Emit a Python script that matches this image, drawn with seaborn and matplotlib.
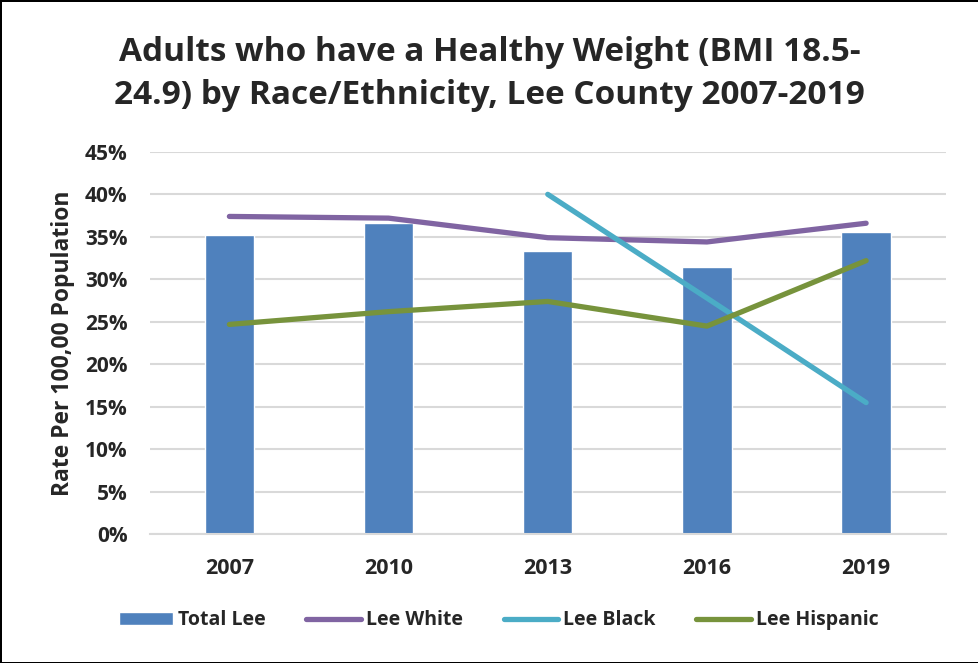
import pandas as pd
import numpy as np
import matplotlib.pyplot as plt
import seaborn as sns

sns.set_style("white")
plt.rcParams['font.family'] = ['Open Sans', 'DejaVu Sans']

years = ['2007', '2010', '2013', '2016', '2019']
total_lee = [35.2, 36.6, 33.3, 31.5, 35.6]
lee_white = [37.4, 37.2, 34.9, 34.4, 36.6]
lee_black = [np.nan, np.nan, 40.0, 27.8, 15.5]
lee_hispanic = [24.7, 26.2, 27.4, 24.5, 32.2]

bars = pd.DataFrame({"Year": years, "Rate": total_lee})
lines = pd.DataFrame({
    "pos": list(range(len(years))) * 3,
    "Rate": lee_white + lee_black + lee_hispanic,
    "Group": ["Lee White"] * 5 + ["Lee Black"] * 5 + ["Lee Hispanic"] * 5,
}).dropna()

fig = plt.figure(figsize=(9.79, 6.63), dpi=100)
fig.patch.set_edgecolor("black")
fig.patch.set_linewidth(2)
ax = fig.add_axes([0.153, 0.194, 0.813, 0.577])

sns.barplot(data=bars, x="Year", y="Rate", color="#4F81BD", saturation=1,
            width=0.31, ax=ax, label="Total Lee", zorder=2)
sns.lineplot(data=lines, x="pos", y="Rate", hue="Group",
             palette={"Lee White": "#8064A2", "Lee Black": "#4BACC6", "Lee Hispanic": "#77933C"},
             linewidth=3.8, ax=ax, zorder=3, legend=True)
for l in ax.lines:
    l.set_solid_capstyle("round")

ax.set_xlim(-0.5, 4.5)
ax.set_ylim(0, 45)
ax.set_yticks(range(0, 50, 5))
ax.set_yticklabels([f"{v}%" for v in range(0, 50, 5)], fontsize=15, fontweight="bold")
ax.set_xticks(range(5))
ax.set_xticklabels(years, fontsize=15.5, fontweight="bold")
ax.tick_params(axis="x", pad=17, length=0)
ax.tick_params(axis="y", pad=16, length=0)
ax.yaxis.grid(True, color="#D9D9D9", linewidth=1.5, zorder=0)
ax.set_axisbelow(True)
for s in ["top", "right", "left"]:
    ax.spines[s].set_visible(False)
ax.spines["bottom"].set_color("#D9D9D9")
ax.spines["bottom"].set_linewidth(1.5)
ax.set_xlabel("")
ax.set_ylabel("Rate Per 100,00 Population", fontsize=16.5, fontweight="bold", labelpad=7)

fig.text(0.5, 0.889, "Adults who have a Healthy Weight (BMI 18.5-\n24.9) by Race/Ethnicity, Lee County 2007-2019",
         ha="center", va="center", fontsize=24, fontweight="bold", linespacing=1.4)

handles, labels = ax.get_legend_handles_labels()
order = [labels.index(n) for n in ["Total Lee", "Lee White", "Lee Black", "Lee Hispanic"]]
ax.legend([handles[i] for i in order], [labels[i] for i in order], loc="center",
          bbox_to_anchor=(0.438, -0.225), ncol=4, frameon=False,
          prop={"size": 14, "weight": "bold"}, handlelength=2.8, handletextpad=0.25, columnspacing=2.1)

fig.savefig("out.png", dpi=100, edgecolor=fig.get_edgecolor())
